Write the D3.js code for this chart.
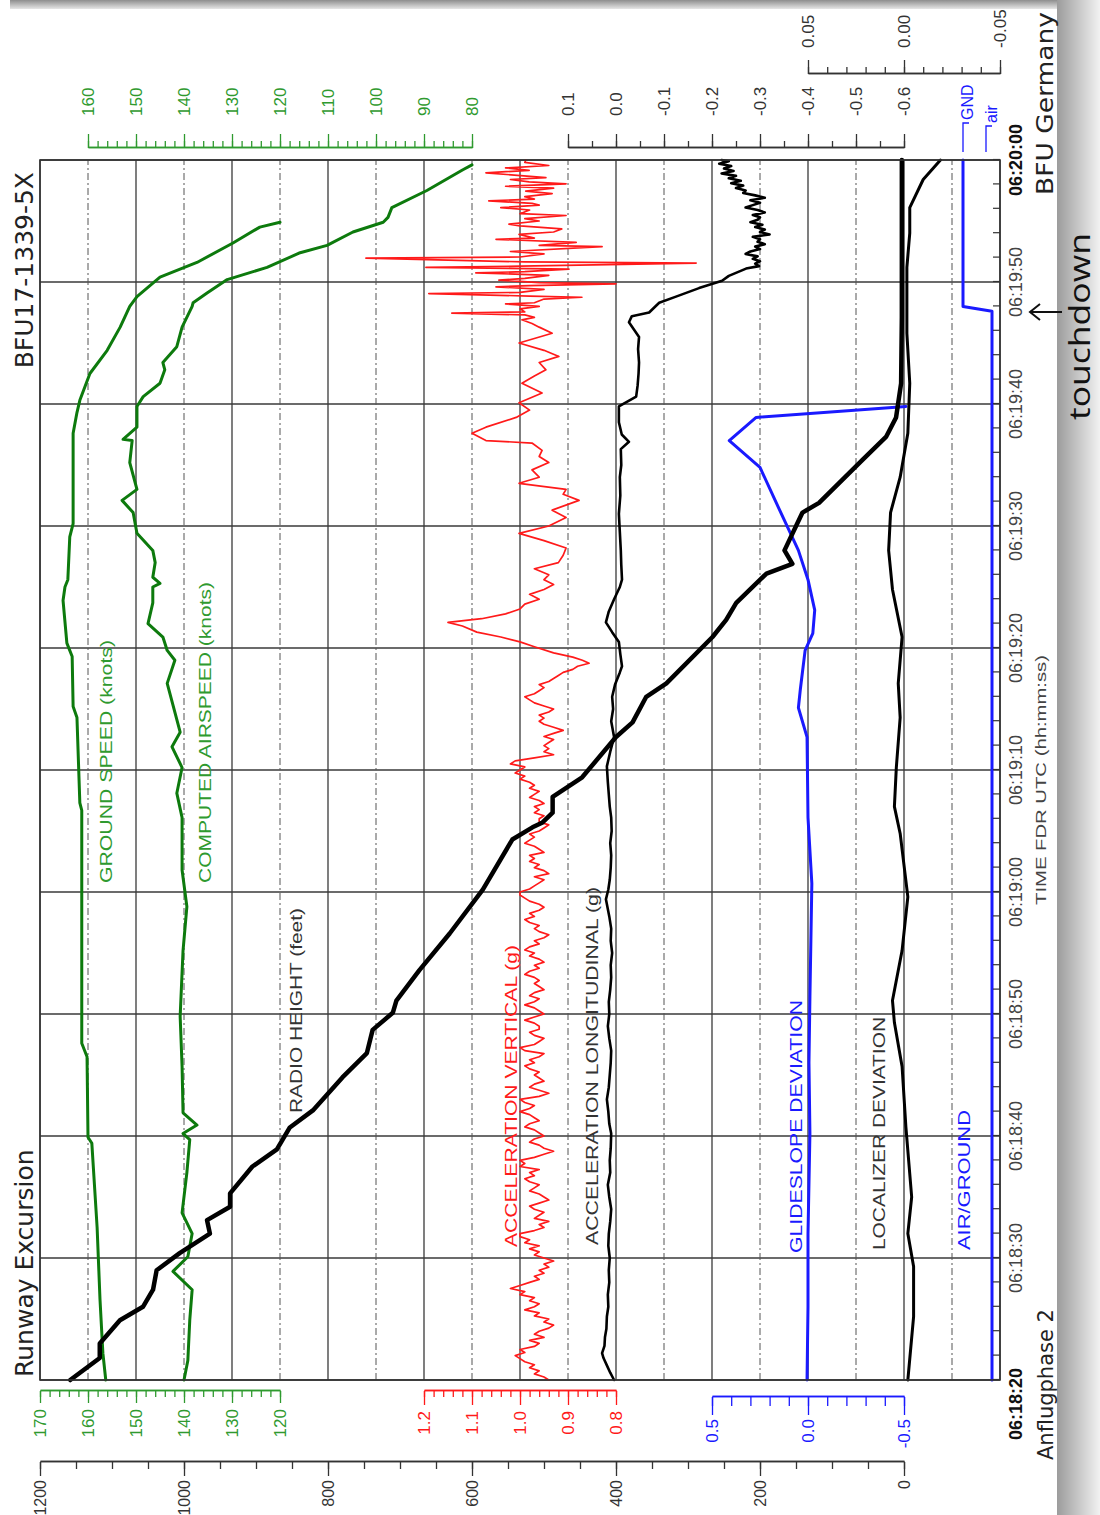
<!DOCTYPE html>
<html>
<head>
<meta charset="utf-8">
<script src="https://cdn.jsdelivr.net/npm/d3@7"></script>
<style>
  body { margin: 0; background: #fff; }
  svg { display: block; }
</style>
</head>
<body>
<svg id="chart" width="1100" height="1515"></svg>
<script>
// time = seconds after 06:18:20 (FDR UTC)
var timeLabels = ["06:18:20","06:18:30","06:18:40","06:18:50","06:19:00","06:19:10",
                  "06:19:20","06:19:30","06:19:40","06:19:50","06:20:00"];

// tick labels of the value axes
var speedTicksBottom = [170, 160, 150, 140, 130, 120];
var speedTicksTop = [160, 150, 140, 130, 120, 110, 100, 90, 80];
var radioTicks = [1200, 1000, 800, 600, 400, 200, 0];
var accelVertTicks = [1.2, 1.1, 1.0, 0.9, 0.8];
var glideTicks = [0.5, 0.0, -0.5];
var accelLongTicks = [0.1, 0.0, -0.1, -0.2, -0.3, -0.4, -0.5, -0.6];
var localizerTicks = [0.05, 0.00, -0.05];

// [time s, knots]
var groundSpeed = [[0,156.3],[2.2,156.9],[6.6,157.5],[12.5,158.1],[19.4,159.2],[19.9,160.0],[26.5,160.2],
  [27.6,161.3],[46.7,161.3],[47.3,161.7],[54.3,162.3],[55.2,163.1],[59.3,163.3],[60.4,164.4],[63.9,165.2],
  [65.0,164.8],[65.6,164.2],[69.1,163.8],[70.2,163.1],[77.6,163.1],[79.3,162.3],[80.3,161.7],[82.5,159.6],
  [84.4,156.0],[86.3,153.3],[88.0,151.3],[88.8,149.8],[90.4,145.0],[91.6,137.3],[93.2,129.8],[94.5,124.2],
  [94.9,120.0]];

var airspeed = [[0,140.0],[1.6,139.2],[4.9,138.8],[7.4,138.3],[8.9,142.3],[10.1,139.2],[12.0,138.3],[13.7,140.4],
  [17.0,139.4],[19.7,138.8],[20.2,140.2],[20.9,137.3],[21.9,140.2],[25.7,140.4],[29.8,140.8],[35.2,140.2],
  [38.8,139.4],[41.8,140.4],[46.1,140.4],[48.1,141.5],[50.2,140.4],[51.9,142.5],[53.1,140.8],[57.1,143.5],
  [59.0,141.9],[59.8,143.5],[60.9,144.4],[62.0,147.5],[63.7,146.5],[65.0,146.5],[65.3,145.0],[65.8,146.5],
  [67.0,146.0],[68.0,146.5],[69.4,149.8],[71.1,150.6],[72.1,152.9],[73.0,149.8],[75.2,151.3],[77.0,150.8],
  [77.1,152.7],[78.1,149.8],[79.8,149.8],[80.6,148.5],[81.7,145.0],[82.8,144.0],[83.4,144.4],[84.7,141.5],
  [86.3,140.4],[88.0,138.3],[88.3,138.1],[89.1,135.2],[90.2,131.0],[91.2,122.7],[92.4,115.8],[93.0,110.2],
  [94.1,104.8],[94.9,98.5],[95.3,97.5],[96.1,96.7],[97.5,89.4],[99.2,81.9],[99.6,80.0]];

// [time s, feet]
var radioHeight = [[0,1158],[1.8,1117],[3.0,1117],[4.9,1089],[6.0,1057],[7.4,1043],[9.0,1038],[10.4,1006],
  [12.0,964],[13.1,968],[14.2,936],[15.3,936],[17.5,905],[18.9,871],[20.7,853],[22.1,821],[24.8,780],
  [26.8,746],[28.7,738],[30.1,710],[31.1,705],[33.6,673],[36.6,631],[40.2,585],[44.3,544],[45.3,516],
  [45.7,502],[46.5,488],[47.8,488],[49.4,447],[52.7,400],[53.9,377],[56.0,358],[57.1,330],[60.9,266],
  [62.3,247],[63.7,233],[66.1,191],[66.9,155],[68.0,166],[71.1,141],[71.9,118],[75.4,58],[77.3,25],
  [78.9,11],[81.7,4],[87.1,3],[100,3]];

// [time s, g]
var accelVert = [
  [0,0.94],[0.25,0.95],[0.5,0.97],[0.75,0.96],[1,0.98],[1.25,0.97],[1.5,0.99],[1.75,1.00],
  [2,1.01],[2.25,0.99],[2.5,1.00],[2.75,0.97],[3,0.96],[3.25,0.98],[3.5,0.95],[3.75,0.97],
  [4,0.96],[4.25,0.94],[4.5,0.93],[4.75,0.95],[5,0.94],[5.25,0.97],[5.5,0.96],[5.75,0.99],
  [6,0.97],[6.25,0.96],[6.5,0.98],[6.75,0.97],[7,1.00],[7.25,0.99],[7.5,1.02],[7.75,1.00],
  [8,0.98],[8.25,0.96],[8.5,0.97],[8.75,0.95],[9,0.96],[9.25,0.94],[9.5,0.95],[9.75,0.93],
  [10,0.95],[10.25,0.97],[10.5,0.96],[10.75,0.98],[11,0.96],[11.25,0.99],[11.5,0.98],[11.75,1.00],
  [12,1.00],[12.25,0.97],[12.5,0.95],[12.75,0.96],[13,0.94],[13.25,0.97],[13.5,0.96],[13.75,0.95],
  [14,0.97],[14.25,0.98],[14.5,0.96],[14.75,0.94],[15,0.95],[15.25,0.96],[15.5,0.98],[15.75,0.97],
  [16,0.96],[16.25,0.98],[16.5,0.99],[16.75,0.97],[17,0.98],[17.25,0.96],[17.5,1.00],[17.75,0.99],
  [18,1.00],[18.25,0.97],[18.5,0.95],[18.75,0.93],[19,0.95],[19.25,0.96],[19.5,0.98],[19.75,0.97],
  [20,0.95],[20.25,0.96],[20.5,0.97],[20.75,0.99],[21,0.98],[21.25,0.96],[21.5,0.97],[21.75,0.98],
  [22,1.00],[22.25,0.98],[22.5,0.97],[22.75,0.99],[23,1.00],[23.25,0.96],[23.5,0.94],[23.75,0.96],
  [24,0.98],[24.25,0.97],[24.5,0.95],[24.75,0.96],[25,0.97],[25.25,0.96],[25.5,0.98],[25.75,0.99],
  [26,0.97],[26.25,0.98],[26.5,0.96],[26.75,0.95],[27,0.99],[27.25,1.00],[27.5,0.97],[27.75,0.96],
  [28,0.95],[28.25,0.97],[28.5,0.98],[28.75,0.96],[29,0.96],[29.25,0.97],[29.5,0.99],[29.75,0.97],
  [30,0.95],[30.25,0.96],[30.5,0.97],[30.75,0.99],[31,0.97],[31.25,0.96],[31.5,0.98],[31.75,0.97],
  [32,0.95],[32.25,0.96],[32.5,0.97],[32.75,0.96],[33,0.97],[33.25,0.99],[33.5,0.98],[33.75,0.96],
  [34,0.97],[34.25,0.95],[34.5,0.96],[34.75,0.98],[35,0.97],[35.25,0.99],[35.5,0.98],[35.75,0.96],
  [36,0.97],[36.25,0.95],[36.5,0.94],[36.75,0.96],[37,0.97],[37.25,0.96],[37.5,0.98],[37.75,0.99],
  [38,0.97],[38.25,0.98],[38.5,0.96],[38.75,0.95],[39,0.96],[39.25,0.98],[39.5,0.99],[39.75,1.00],
  [40,1.00],[40.25,0.98],[40.5,0.97],[40.75,0.96],[41,0.95],[41.25,0.97],[41.5,0.94],[41.75,0.95],
  [42,0.97],[42.25,0.96],[42.5,0.98],[42.75,0.97],[43,0.98],[43.25,0.95],[43.5,0.96],[43.75,0.97],
  [44,0.99],[44.25,0.98],[44.5,0.97],[44.75,0.98],[45,0.96],[45.25,0.95],[45.5,0.94],[45.75,0.96],
  [46,0.96],[46.25,0.95],[46.5,0.97],[46.75,0.96],[47,0.97],[47.25,0.95],[47.5,0.96],[47.75,0.98],
  [48,0.97],[48.25,0.96],[48.5,0.98],[48.75,0.97],[49,0.98],[49.25,1.00],[49.5,0.99],[49.75,1.01],
  [50,1.00],[50.25,0.99],[50.5,1.02],[50.75,1.01],[51,0.97],[51.25,0.93],[51.5,0.95],[51.75,0.94],
  [52,0.95],[52.25,0.94],[52.5,0.93],[52.75,0.95],[53,0.93],[53.25,0.91],[53.5,0.93],[53.75,0.95],
  [54,0.96],[54.25,0.95],[54.5,0.96],[54.75,0.94],[55,0.93],[55.25,0.95],[55.5,0.97],[55.75,0.98],
  [56,0.99],[56.25,0.97],[56.5,0.96],[56.75,0.95],[57,0.96],[57.25,0.94],[57.5,0.93],[57.75,0.92],
  [58,0.91],[58.25,0.89],[58.5,0.88],[58.75,0.856],[59.0,0.87],[59.25,0.89],[59.6,0.93],[60.1,0.97],
  [60.5,1.00],[60.9,1.04],[61.3,1.09],[61.8,1.12],[62.1,1.15],[62.4,1.08],[62.8,1.03],[63.2,1.00],[63.6,0.99],
  [64.0,0.96],[64.4,0.98],[64.8,0.95],[65.2,0.93],[65.6,0.95],[66.0,0.94],[66.5,0.97],[67.0,0.92],[67.6,0.91],
  [68.2,0.904],[68.8,0.95],[69.4,1.002],[70.0,0.94],[70.7,0.904],[71.3,0.933],[72.1,0.877],[72.6,0.91],
  [73.0,0.904],[73.5,1.002],[74.0,0.96],[74.6,0.975],[75.2,0.94],[75.7,0.96],[76.2,0.954],[76.8,0.975],
  [77.0,1.071],[77.6,1.10],[78.1,1.071],[78.9,1.008],[79.5,0.98],[80.1,1.002],[80.9,0.954],[81.7,0.996],
  [82.3,0.97],[82.8,0.946],[83.4,0.96],[83.9,0.919],[84.4,0.95],[85.0,1.002],[85.8,0.933],[86.3,0.96],
  [86.6,0.975],[86.9,0.996],[87.1,0.97],[87.3,0.99],[87.45,1.142],[87.55,0.99],[87.8,1.0],[88.0,0.96],
  [88.2,1.03],[88.3,0.97],[88.6,0.95],[88.75,0.871],[88.85,0.98],[89.05,1.19],[89.15,1.0],[89.4,0.95],
  [89.6,1.05],[89.7,0.98],[89.85,0.80],[89.95,0.96],[90.15,1.044],[90.3,0.99],[90.55,0.94],[90.75,1.092],
  [90.85,0.99],[91.05,0.898],[91.2,1.196],[91.3,1.0],[91.55,0.633],[91.65,0.99],[91.95,1.321],[92.05,1.0],
  [92.3,0.95],[92.5,1.02],[92.9,0.829],[93.0,0.96],[93.25,0.883],[93.5,1.05],[93.6,0.97],[93.9,1.002],
  [94.1,0.93],[94.35,0.913],[94.6,1.0],[94.75,1.023],[95.0,0.96],[95.2,0.99],[95.45,0.904],[95.6,1.0],
  [95.9,0.98],[96.1,1.04],[96.3,0.96],[96.45,0.975],[96.65,1.065],[96.8,0.97],[97.0,0.99],[97.25,0.933],
  [97.45,0.988],[97.7,0.93],[97.85,1.03],[98.05,0.904],[98.2,0.981],[98.4,1.02],[98.55,0.946],[98.95,1.071],
  [99.15,0.981],[99.35,1.03],[99.55,0.94],[99.8,0.99],[100,0.988]];

var accelLong = [[0,0.004],[0.6,0.012],[1.2,0.019],[1.8,0.026],[2.2,0.029],[2.8,0.024],[3.5,0.023],[4.2,0.020],
  [5.2,0.019],[6.0,0.016],[7.0,0.017],[8.0,0.014],[9.0,0.015],[10,0.013],[11,0.016],[12,0.015],[13,0.012],
  [14,0.010],[15,0.014],[16,0.017],[17,0.012],[18,0.013],[19,0.011],[20.2,0.010],[21,0.014],[22,0.016],
  [23,0.019],[24,0.015],[25,0.013],[26,0.011],[27,0.010],[28,0.014],[29,0.017],[30,0.014],[31,0.015],
  [32,0.012],[33,0.010],[34,0.011],[35,0.008],[36,0.011],[37,0.010],[38,0.014],[39.4,0.021],[40.2,0.016],
  [41,0.013],[42,0.011],[43,0.010],[44,0.012],[45,0.009],[46.1,0.010],[47,0.013],[48,0.015],[49,0.017],
  [50.3,0.019],[51.5,0.012],[52.7,0.004],[54,0.010],[55,0.006],[56,0.008],[57,0.002],[58,-0.008],[58.5,-0.0125],
  [59.5,-0.009],[60.5,-0.006],[61.3,0.008],[62.1,0.021],[63,0.015],[64,0.004],[65,-0.008],[65.6,-0.0125],
  [66.8,-0.011],[68,-0.010],[69.5,-0.008],[71,-0.006],[72.5,-0.009],[74,-0.008],[75,-0.011],[76.3,-0.010],
  [76.9,-0.027],[77.5,-0.012],[78.5,-0.006],[79.8,-0.006],[80.6,-0.042],[81.5,-0.045],[82.5,-0.047],
  [83.4,-0.048],[84.5,-0.046],[85.5,-0.048],[86.7,-0.027],[87.2,-0.033],[87.5,-0.069],[88.3,-0.090],
  [88.8,-0.125],[89.5,-0.173],[90.1,-0.221],[90.5,-0.235],[91.1,-0.271],[91.3,-0.298],[91.5,-0.29],
  [91.7,-0.30],[91.9,-0.285],[92.1,-0.295],[92.3,-0.27],[92.5,-0.28],[92.7,-0.30],[92.9,-0.29],[93.1,-0.31],
  [93.3,-0.295],[93.5,-0.30],[93.7,-0.285],[93.9,-0.32],[94.1,-0.30],[94.3,-0.31],[94.5,-0.29],[94.7,-0.305],
  [94.9,-0.28],[95.1,-0.295],[95.3,-0.30],[95.5,-0.285],[95.7,-0.31],[95.9,-0.295],[96.1,-0.27],[96.3,-0.285],
  [96.5,-0.30],[96.7,-0.28],[96.9,-0.31],[97.1,-0.29],[97.3,-0.265],[97.5,-0.27],[97.7,-0.25],[97.9,-0.265],
  [98.1,-0.24],[98.3,-0.26],[98.5,-0.235],[98.7,-0.25],[98.9,-0.22],[99.1,-0.245],[99.3,-0.225],[99.5,-0.24],
  [99.7,-0.215],[99.9,-0.235],[100,-0.22]];

// [time s, dots]
var glideslope = [[0,0.005],[6,0.0],[12.0,0.0],[20.2,-0.01],[26,-0.005],[31.4,-0.01],[36,-0.015],[40.7,-0.02],
  [46.1,0.0],[52.7,0.005],[55.1,0.05],[56.6,0.04],[59.8,0.015],[61.2,-0.025],[63.1,-0.035],[65.6,0.0],
  [68.0,0.05],[70.7,0.13],[74.8,0.25],[77.0,0.41],[78.9,0.27],[79.8,-0.51]];

var localizer = [[0,-0.002],[5.2,-0.005],[9.3,-0.005],[12.0,-0.002],[15.0,-0.004],[20.7,-0.001],[25.7,0.001],
  [29.3,0.005],[31.1,0.006],[35.2,0.001],[39.6,-0.002],[44.8,0.002],[47.0,0.005],[50.2,0.004],[54.3,0.002],
  [57.1,0.003],[60.9,0.001],[64.8,0.006],[68.0,0.008],[71.1,0.007],[74.0,0.002],[77.6,-0.002],[81.7,-0.003],
  [85.8,-0.0015],[91.2,-0.0015],[94.0,-0.003],[96.1,-0.003],[98.4,-0.010],[100,-0.019]];

// 0 = air, 1 = GND
var airGround = [[0,0],[87.6,0],[88.0,1],[100,1]];

// ---------------------------------------------------------------
var svg = d3.select("#chart");
var defs = svg.append("defs");

// page shadow
var gr = defs.append("linearGradient").attr("id", "shR").attr("x1", 0).attr("x2", 1).attr("y1", 0).attr("y2", 0);
gr.append("stop").attr("offset", 0).attr("stop-color", "#9c9c9c");
gr.append("stop").attr("offset", 1).attr("stop-color", "#f2f2f2");
var gt = defs.append("linearGradient").attr("id", "shT").attr("x1", 0).attr("x2", 0).attr("y1", 0).attr("y2", 1);
gt.append("stop").attr("offset", 0).attr("stop-color", "#8e8e8e");
gt.append("stop").attr("offset", 1).attr("stop-color", "#e6e6e6");
svg.append("rect").attr("x", 1057).attr("y", 0).attr("width", 43).attr("height", 1515).attr("fill", "url(#shR)");
svg.append("rect").attr("x", 10).attr("y", 0).attr("width", 1047).attr("height", 9).attr("fill", "url(#shT)");

// the chart is drawn landscape (time to the right) and turned a quarter to the left
var W = 1220, H = 960;
var g = svg.append("g").attr("transform", "translate(40,1380) rotate(-90)");

var tx = d3.scaleLinear().domain([0, 100]).range([0, W]);
var grid = d3.scaleLinear().domain([0, 10]).range([0, H]);
var speedY = d3.scaleLinear().domain([170, 80]).range([0, 432]);
var radioY = d3.scaleLinear().domain([1200, 0]).range([0, 864]);
var vertY = d3.scaleLinear().domain([1.2, 0.8]).range([384, 576]);
var longY = d3.scaleLinear().domain([0.1, -0.6]).range([528, 864]);
var glideY = d3.scaleLinear().domain([0.5, -0.5]).range([672, 864]);
var locY = d3.scaleLinear().domain([0.05, -0.05]).range([768, 960]);
var agY = d3.scaleLinear().domain([0, 1]).range([952, 923]);

var GREEN = "#0d7a0d", GREEN_T = "#2f9a2f", RED = "#ff1a1a", BLUE = "#1a1aff", INK = "#333";
var FONT = "'Liberation Sans', Arial, sans-serif";

// grid
var gg = g.append("g");
gg.selectAll(".vt").data(d3.range(0, 101, 10)).enter().append("line")
  .attr("x1", function (d) { return tx(d); }).attr("x2", function (d) { return tx(d); })
  .attr("y1", 0).attr("y2", H).attr("stroke", "#3a3a3a").attr("stroke-width", 1.3);
gg.selectAll(".hs").data(d3.range(0, 11)).enter().append("line")
  .attr("x1", 0).attr("x2", W).attr("y1", function (d) { return grid(d); }).attr("y2", function (d) { return grid(d); })
  .attr("stroke", "#3a3a3a").attr("stroke-width", 1.3);
gg.selectAll(".hd").data(d3.range(0.5, 10, 1)).enter().append("line")
  .attr("x1", 0).attr("x2", W).attr("y1", function (d) { return grid(d); }).attr("y2", function (d) { return grid(d); })
  .attr("stroke", "#555").attr("stroke-width", 1).attr("stroke-dasharray", "7,3,2,3");

// series
function drawSeries(data, y, color, width) {
  g.append("path").datum(data)
    .attr("fill", "none").attr("stroke", color).attr("stroke-width", width)
    .attr("stroke-linejoin", "round").attr("stroke-linecap", "round")
    .attr("d", d3.line().x(function (d) { return tx(d[0]); }).y(function (d) { return y(d[1]); }));
}
drawSeries(groundSpeed, speedY, GREEN, 3);
drawSeries(airspeed, speedY, GREEN, 3);
drawSeries(accelVert, vertY, RED, 1.7);
drawSeries(accelLong, longY, "#000", 2.6);
drawSeries(glideslope, glideY, BLUE, 3);
drawSeries(localizer, locY, "#000", 3);
drawSeries(radioHeight, radioY, "#000", 4.5);
drawSeries(airGround, agY, BLUE, 3);

// frame
g.append("rect").attr("x", 0).attr("y", 0).attr("width", W).attr("height", H)
  .attr("fill", "none").attr("stroke", "#333").attr("stroke-width", 1.6);

// value axes: left = below the plot on screen, right = above it
function valueAxis(scale, ticks, minorStep, pos, side, color, fmt, majorLen, minorLen, pad, fs) {
  var lo = ticks[0], hi = ticks[ticks.length - 1];
  var s = scale.copy().domain([lo, hi]).range([scale(lo), scale(hi)]);
  var mk = side === "left" ? d3.axisLeft : d3.axisRight;
  var n = Math.round(Math.abs(hi - lo) / minorStep);
  var minors = d3.range(0, n + 1).map(function (i) { return lo + (hi - lo) * i / n; });
  var a1 = g.append("g").attr("transform", "translate(" + pos + ",0)")
    .call(mk(s).tickValues(minors).tickSize(minorLen).tickSizeOuter(0).tickFormat(""));
  var a2 = g.append("g").attr("transform", "translate(" + pos + ",0)")
    .call(mk(s).tickValues(ticks).tickSize(majorLen).tickSizeOuter(0).tickPadding(pad).tickFormat(fmt));
  [a1, a2].forEach(function (a) {
    a.select(".domain").attr("stroke", color).attr("stroke-width", 1.3);
    a.selectAll(".tick line").attr("stroke", color).attr("stroke-width", 1.3);
  });
  a2.selectAll(".tick text").attr("fill", color).attr("font-family", FONT).attr("font-size", fs || 17);
}
function f1(d) { return d.toFixed(1); }
function f2(d) { return d.toFixed(2); }
function f0(d) { return String(d); }

valueAxis(speedY, speedTicksBottom, 2, -11, "left", GREEN_T, f0, 12, 6, 6);
valueAxis(vertY, accelVertTicks, 0.02, -11, "left", RED, f1, 14, 6, 6);
valueAxis(glideY, glideTicks, 0.1, -17, "left", BLUE, f1, 18, 9, 4);
valueAxis(radioY, radioTicks, 50, -82, "left", INK, f0, 14, 7, 4, 16);
valueAxis(speedY, speedTicksTop, 2, 1232, "right", GREEN_T, f0, 14, 7, 18);
valueAxis(longY, accelLongTicks, 0.05, 1232, "right", INK, f1, 14, 7, 18);
valueAxis(locY, localizerTicks, 0.01, 1306, "right", INK, f2, 14, 7, 12);

// time axis (right side of the plot on screen)
var ta = g.append("g").attr("transform", "translate(0," + H + ")")
  .call(d3.axisBottom(tx).tickValues(d3.range(0, 101, 2)).tickSize(-7).tickFormat(""));
ta.select(".domain").remove();
ta.selectAll(".tick line").attr("stroke", "#333").attr("stroke-width", 1.2);
var lastT = timeLabels.length - 1;
g.append("g").selectAll("text").data(timeLabels).enter().append("text")
  .attr("x", function (d, i) { return i === 0 ? 12 : tx(i * 10); }).attr("y", H + 22)
  .attr("text-anchor", function (d, i) { return i === 0 ? "end" : "middle"; })
  .attr("font-family", FONT).attr("font-size", 18)
  .attr("font-weight", function (d, i) { return (i === 0 || i === lastT) ? "bold" : "normal"; })
  .attr("fill", function (d, i) { return (i === 0 || i === lastT) ? "#111" : "#444"; })
  .text(function (d) { return d; });
g.append("text").attr("x", 600).attr("y", H + 46).attr("text-anchor", "middle")
  .attr("textLength", 250).attr("lengthAdjust", "spacingAndGlyphs")
  .attr("font-family", FONT).attr("font-size", 15).attr("fill", "#444").text("TIME FDR UTC (hh:mm:ss)");

// series labels
var seriesLabels = [
  {text: "GROUND SPEED (knots)", x: 497, y: 72, len: 243, color: GREEN_T},
  {text: "COMPUTED AIRSPEED (knots)", x: 497, y: 171, len: 301, color: GREEN_T},
  {text: "RADIO HEIGHT (feet)", x: 267, y: 262, len: 205, color: INK},
  {text: "ACCELERATION VERTICAL (g)", x: 133, y: 477, len: 302, color: RED},
  {text: "ACCELERATION LONGITUDINAL (g)", x: 135, y: 558, len: 358, color: INK},
  {text: "GLIDESLOPE DEVIATION", x: 127, y: 762, len: 253, color: BLUE},
  {text: "LOCALIZER DEVIATION", x: 130, y: 845, len: 233, color: INK},
  {text: "AIR/GROUND", x: 130, y: 930, len: 140, color: BLUE}
];
g.append("g").selectAll("text").data(seriesLabels).enter().append("text")
  .attr("x", function (d) { return d.x; }).attr("y", function (d) { return d.y; })
  .attr("textLength", function (d) { return d.len; }).attr("lengthAdjust", "spacingAndGlyphs")
  .attr("font-family", FONT).attr("font-size", 17).attr("fill", function (d) { return d.color; })
  .text(function (d) { return d.text; });

// GND / air legend
var lg = g.append("g").attr("stroke", BLUE).attr("stroke-width", 1.3).attr("fill", "none");
lg.append("path").attr("d", "M1228,923H1257V929");
lg.append("path").attr("d", "M1228,946H1254V952");
g.append("text").attr("x", 1260).attr("y", 933).attr("font-family", FONT).attr("font-size", 16)
  .attr("fill", BLUE).text("GND");
g.append("text").attr("x", 1257).attr("y", 957).attr("font-family", FONT).attr("font-size", 16)
  .attr("fill", BLUE).text("air");

// titles
var TITLE = "'DejaVu Sans', Verdana, sans-serif";
g.append("text").attr("x", 3).attr("y", -7).attr("font-family", TITLE).attr("font-size", 25)
  .attr("fill", "#222").text("Runway Excursion");
g.append("text").attr("x", 1208).attr("y", -7).attr("text-anchor", "end").attr("font-family", TITLE)
  .attr("font-size", 25).attr("fill", "#222").text("BFU17-1339-5X");
g.append("text").attr("x", -80).attr("y", 1013).attr("font-family", TITLE).attr("font-size", 21)
  .attr("fill", "#222").text("Anflugphase 2");
g.append("text").attr("x", 1368).attr("y", 1013).attr("text-anchor", "end").attr("font-family", TITLE)
  .attr("textLength", 183).attr("lengthAdjust", "spacingAndGlyphs")
  .attr("font-size", 23).attr("fill", "#222").text("BFU Germany");

// touchdown marker
g.append("text").attr("x", 960).attr("y", 1050).attr("textLength", 187).attr("lengthAdjust", "spacingAndGlyphs")
  .attr("font-family", "'Open Sans', sans-serif").attr("font-size", 30).attr("fill", "#111").text("touchdown");
g.append("path").attr("d", "M1068,1022V991M1060,1000L1068,990L1076,1000")
  .attr("fill", "none").attr("stroke", "#111").attr("stroke-width", 2);
</script>
</body>
</html>
